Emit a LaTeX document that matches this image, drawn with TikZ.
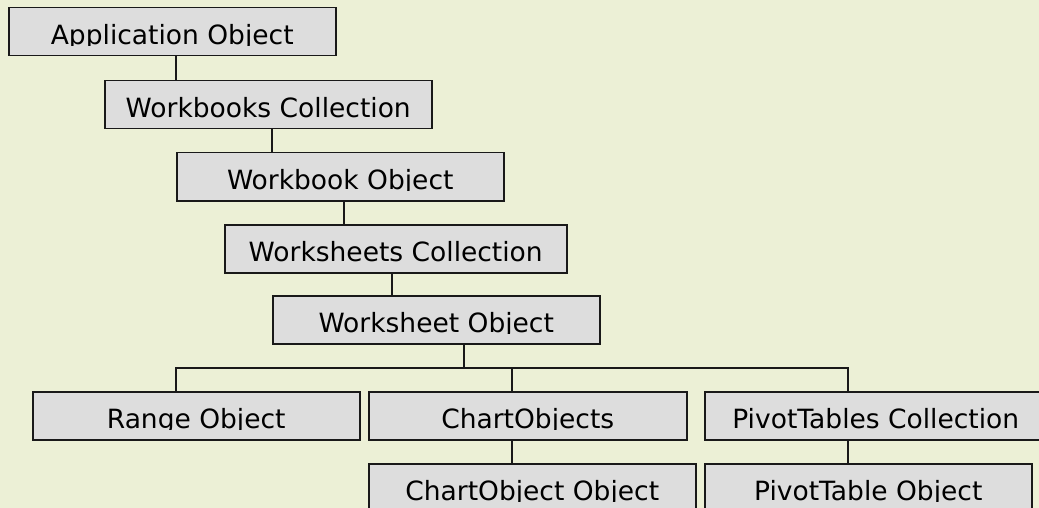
\documentclass[tikz,border=0pt]{standalone}
\usepackage{fontspec}
\setmainfont{DejaVu Sans}
\usetikzlibrary{calc}
\definecolor{bgcol}{RGB}{236,240,214}
\definecolor{boxfill}{RGB}{221,221,221}
\definecolor{linecol}{RGB}{25,25,25}
\tikzset{
  objbox/.style={draw=linecol, fill=boxfill, line width=1.5pt, inner sep=0pt,
    minimum height=48pt, anchor=north west},
  objlabel/.style={inner sep=0pt, anchor=base, font=\fontsize{26.5}{30}\selectfont, text=black},
  conn/.style={draw=linecol, line width=1.5pt}
}
% name, x, y, width, text
\newcommand\drawobjbox[5]{%
  \node[objbox, minimum width=#4pt] (#1) at (#2,#3) {};
  \begin{scope}
    \clip (#1.north west) rectangle ($(#1.north east)+(0,38.5)$);
    \node[objlabel] (#1-t) at ($(#1.north)+(0,37.5)$) {#5};
  \end{scope}
}
\begin{document}
\begin{tikzpicture}[x=1pt,y=-1pt]
\useasboundingbox (0,0) rectangle (1039,508);
\clip (0,0) rectangle (1039,508);
\fill[bgcol] (0,0) rectangle (1039,508);

\drawobjbox{app}{8}{7}{327}{Application Object}
\drawobjbox{wbs}{104}{80}{327}{Workbooks Collection}
\drawobjbox{wb}{176}{152}{327}{Workbook Object}
\drawobjbox{wss}{224}{224}{342}{Worksheets Collection}
\drawobjbox{ws}{272}{295}{327}{Worksheet Object}
\drawobjbox{range}{32}{391}{327}{Range Object}
\drawobjbox{chart}{368}{391}{318}{ChartObjects}
\drawobjbox{pivots}{704}{391}{342}{PivotTables Collection}
\drawobjbox{chobj}{368}{463}{327}{ChartObject Object}
\drawobjbox{pivot}{704}{463}{327}{PivotTable Object}

\coordinate (x1) at (176,0);
\coordinate (x2) at (272,0);
\coordinate (x3) at (344,0);
\coordinate (x4) at (392,0);
\coordinate (x5) at (464,0);
\coordinate (x6) at (512,0);
\coordinate (x7) at (848,0);
\coordinate (bar) at (0,368);

\draw[conn] (app.south -| x1) -- (wbs.north -| x1);
\draw[conn] (wbs.south -| x2) -- (wb.north -| x2);
\draw[conn] (wb.south -| x3) -- (wss.north -| x3);
\draw[conn] (wss.south -| x4) -- (ws.north -| x4);
\draw[conn] (ws.south -| x5) -- (x5 |- bar);
\draw[conn] (range.north -| x1) -- (x1 |- bar) -- (x7 |- bar) -- (pivots.north -| x7);
\draw[conn] (chart.north -| x6) -- (x6 |- bar);
\draw[conn] (chart.south -| x6) -- (chobj.north -| x6);
\draw[conn] (pivots.south -| x7) -- (pivot.north -| x7);
\end{tikzpicture}
\end{document}
